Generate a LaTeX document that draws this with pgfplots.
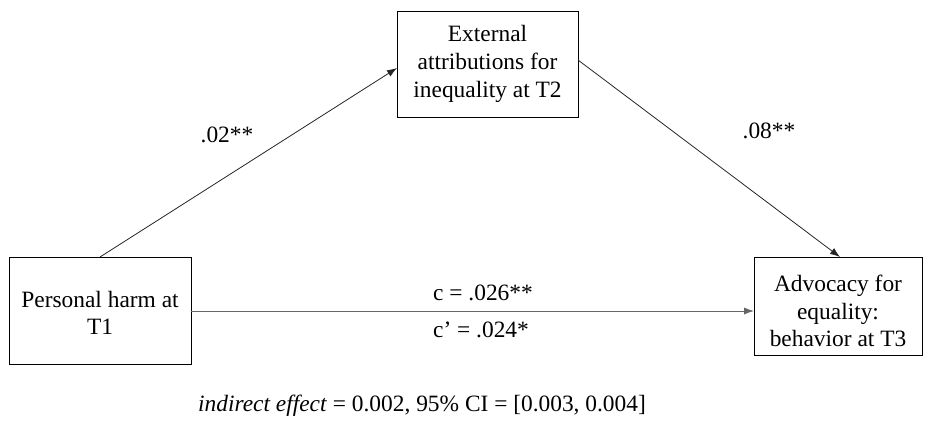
\documentclass[border=0pt]{standalone}
\usepackage{pgfplots}
\pgfplotsset{compat=1.18}
\usepackage{fontspec}
\setmainfont{Liberation Serif}
\usetikzlibrary{arrows.meta}
\tikzset{lbl/.style={font=\fontsize{11.7}{13.8}\selectfont, align=center, inner sep=0pt}}
\begin{document}
\begin{tikzpicture}
\begin{axis}[
  width=462.5pt, height=212pt, scale only axis,
  xmin=0, xmax=925, ymin=0, ymax=424, y dir=reverse,
  hide axis, clip=false,
]
% invisible frame to fix the picture size
\addplot[draw=none, mark=none, forget plot] coordinates {(0,0) (925,424)};
% boxes
\addplot[black, line width=0.5pt, mark=none] coordinates {(9,257) (191,257) (191,364) (9,364) (9,257)};
\addplot[black, line width=0.5pt, mark=none] coordinates {(397,11) (578,11) (578,117) (397,117) (397,11)};
\addplot[black, line width=0.5pt, mark=none] coordinates {(754,257) (922,257) (922,355) (754,355) (754,257)};
% arrows
\addplot[black!85, line width=0.4pt, mark=none, -{Latex[length=5pt,width=3.6pt]}] coordinates {(100,257) (397,68)};
\addplot[black!85, line width=0.4pt, mark=none, -{Latex[length=5pt,width=3.6pt]}] coordinates {(578,60) (840,257)};
\addplot[black!60, line width=0.5pt, mark=none, -{Latex[length=5pt,width=3.6pt]}] coordinates {(191,311) (754,311)};
% texts
\node[lbl] at (axis cs:100,313) {Personal harm at\\T1};
\node[lbl] at (axis cs:487.5,64) {External\\attributions for\\inequality at T2};
\node[lbl] at (axis cs:838,311) {Advocacy for\\equality:\\behavior at T3};
\node[lbl] at (axis cs:227,135) {.02**};
\node[lbl] at (axis cs:769,131) {.08**};
\node[lbl] at (axis cs:483,293) {c = .026**};
\node[lbl] at (axis cs:481,330) {c’ = .024*};
\node[lbl] at (axis cs:422,406) {\textit{indirect effect} = 0.002, 95\% CI = [0.003, 0.004]};
\end{axis}
\end{tikzpicture}
\end{document}
